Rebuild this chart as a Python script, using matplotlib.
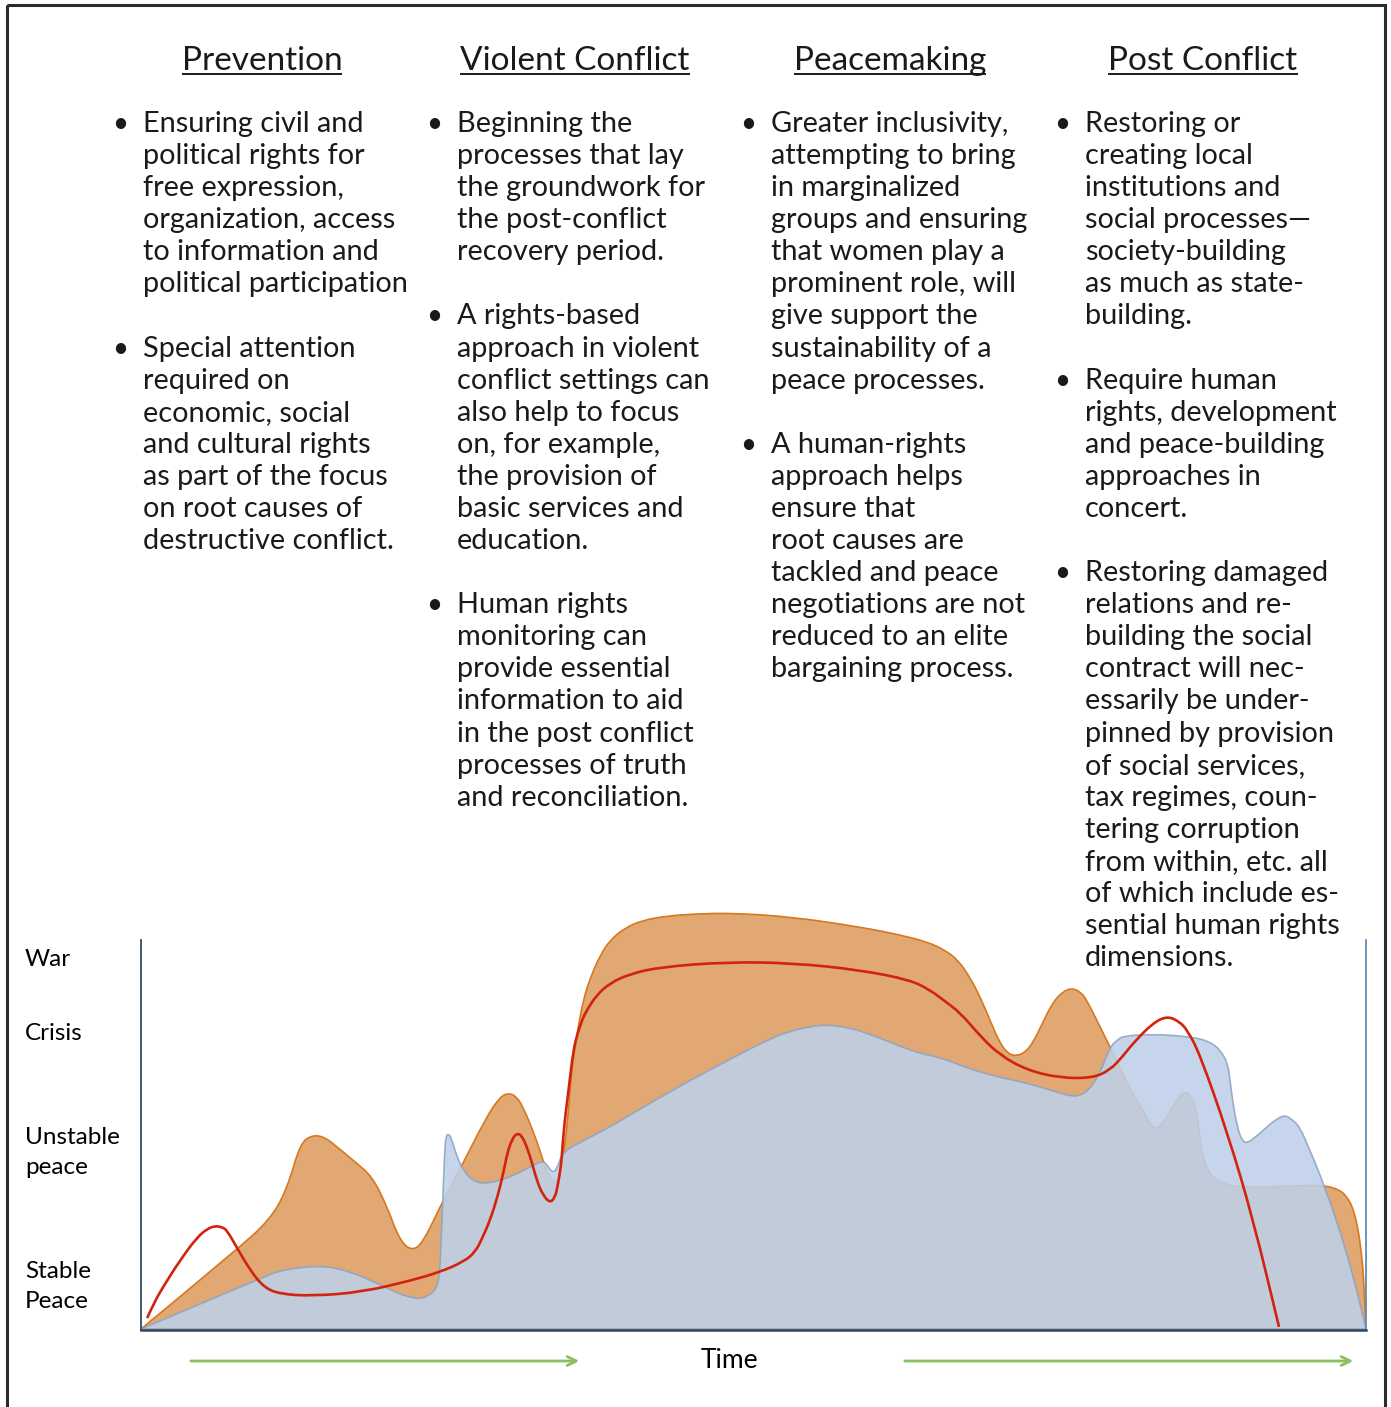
import matplotlib.pyplot as plt
from matplotlib.patches import Rectangle, PathPatch
from matplotlib.path import Path

plt.rcParams['font.family'] = ['Lato', 'DejaVu Sans']

W, H = 1391, 1407

# ---- data: conflict curve chart (time 0-100, level on an arbitrary scale) ----
orange_t = [0, 7.8, 10.5, 11.9, 13.0, 14.0, 15.0, 16.0, 17.5, 18.9, 20.1, 21.1, 22.1, 23.0,
            24.4, 26.3, 28.2, 29.3, 30.0, 30.6, 31.2, 32.2, 32.8, 33.3, 33.9, 34.4, 34.9,
            35.1, 35.6, 36.1, 36.7, 37.5, 38.3, 39.5, 41.0, 43.0, 45.1, 48.3, 53.2, 58.7,
            62.0, 64.2, 65.6, 66.7, 67.7, 68.5, 69.3, 70.1, 70.8, 71.5, 72.2, 72.8, 73.6,
            74.4, 75.2, 76.0, 76.7, 77.2, 78.3, 79.1, 79.9, 80.7, 81.6, 82.4, 82.9, 83.6,
            84.2, 84.9, 85.4, 85.9, 86.2, 86.4, 86.7, 87.3, 88.1, 90.0, 94.0, 96.5, 97.9,
            98.5, 98.9, 99.3, 99.6, 99.8, 100]
orange_y = [0, 0.79, 1.09, 1.39, 1.86, 1.94, 1.92, 1.82, 1.67, 1.52, 1.22, 0.89, 0.78, 0.86,
            1.22, 1.66, 2.12, 2.32, 2.36, 2.33, 2.22, 1.92, 1.69, 1.53, 1.44, 1.64, 2.16,
            2.54, 2.96, 3.29, 3.52, 3.74, 3.89, 4.01, 4.09, 4.13, 4.15, 4.16, 4.12, 4.02,
            3.94, 3.87, 3.79, 3.69, 3.51, 3.32, 3.09, 2.86, 2.75, 2.73, 2.77, 2.86, 3.06,
            3.26, 3.37, 3.41, 3.37, 3.29, 3.02, 2.82, 2.62, 2.41, 2.22, 2.05, 1.99, 2.09,
            2.22, 2.35, 2.37, 2.29, 2.16, 1.94, 1.69, 1.54, 1.46, 1.41, 1.43, 1.44, 1.39,
            1.31, 1.22, 1.04, 0.79, 0.54, 0]

blue_t = [0, 10.0, 11.3, 12.7, 14.4, 16.0, 17.5, 18.7, 20.9, 21.9, 22.8, 23.6, 24.2, 24.4,
          24.5, 24.6, 24.7, 24.8, 24.9, 25.1, 25.3, 25.8, 26.3, 27.0, 27.9, 29.5, 31.2,
          32.8, 33.2, 33.6, 34.0, 34.4, 36.2, 38.3, 42.4, 46.4, 51.1, 53.0, 54.9, 56.0,
          57.5, 59.3, 63.3, 65.2, 68.5, 72.3, 74.2, 75.8, 76.6, 77.4, 78.3, 79.1, 79.7,
          80.2, 82.6, 85.9, 87.3, 88.1, 88.7, 88.9, 89.1, 89.5, 89.9, 90.3, 90.9, 91.9,
          92.7, 93.4, 94.0, 94.6, 95.4, 96.2, 97.6, 98.9, 100]
blue_y = [0, 0.52, 0.58, 0.61, 0.63, 0.61, 0.55, 0.49, 0.36, 0.32, 0.30, 0.34, 0.42, 0.59,
          0.89, 1.16, 1.49, 1.79, 1.93, 1.95, 1.92, 1.72, 1.59, 1.49, 1.45, 1.49, 1.58,
          1.69, 1.63, 1.56, 1.61, 1.77, 1.89, 2.02, 2.32, 2.59, 2.89, 2.98, 3.03, 3.04,
          3.02, 2.96, 2.76, 2.72, 2.56, 2.46, 2.39, 2.33, 2.33, 2.39, 2.56, 2.82, 2.89,
          2.93, 2.95, 2.92, 2.87, 2.79, 2.66, 2.49, 2.29, 2.01, 1.88, 1.86, 1.91, 2.02,
          2.10, 2.14, 2.09, 2.02, 1.79, 1.56, 1.09, 0.56, 0]

red_t = [0.5, 1.1, 1.8, 3.2, 4.6, 5.4, 6.0, 6.6, 7.0, 7.8, 8.9, 10.0, 11.3, 14.0, 18.1, 22.2,
         24.4, 26.3, 27.3, 27.9, 28.5, 29.1, 29.6, 29.9, 30.3, 30.7, 31.1, 31.5, 31.9, 32.3,
         32.8, 33.4, 33.8, 34.0, 34.3, 34.4, 34.6, 34.8, 35.0, 35.3, 35.6, 36.0, 36.4, 37.2,
         38.3, 39.9, 42.4, 47.8, 53.2, 58.7, 62.8, 64.4, 65.5, 66.9, 68.5, 70.1, 72.3, 75.0,
         77.7, 79.1, 80.1, 81.0, 82.6, 83.8, 84.8, 85.4, 86.4, 88.7, 90.8, 92.9]
red_y = [0.11, 0.27, 0.42, 0.69, 0.92, 1.00, 1.03, 1.02, 0.99, 0.82, 0.59, 0.42, 0.35, 0.33,
         0.37, 0.49, 0.57, 0.67, 0.77, 0.92, 1.09, 1.32, 1.57, 1.76, 1.90, 1.96, 1.93, 1.82,
         1.67, 1.49, 1.34, 1.26, 1.32, 1.42, 1.64, 1.82, 2.09, 2.29, 2.49, 2.79, 2.94, 3.09,
         3.19, 3.34, 3.46, 3.55, 3.62, 3.67, 3.66, 3.59, 3.49, 3.39, 3.29, 3.16, 2.93, 2.74,
         2.59, 2.51, 2.51, 2.59, 2.72, 2.86, 3.06, 3.13, 3.07, 2.99, 2.76, 1.96, 1.09, 0.02]

level_pos = [3.72, 2.97, 1.83, 0.49]
level_labels = ['War', 'Crisis', 'Unstable\npeace', 'Stable\nPeace']

# ---- data: text columns ----
headers = ['Prevention', 'Violent Conflict', 'Peacemaking', 'Post Conflict']
columns = [
    [['Ensuring civil and', 'political rights for', 'free expression,', 'organization, access',
      'to information and', 'political participation'],
     ['Special attention', 'required on', 'economic, social', 'and cultural rights',
      'as part of the focus', 'on root causes of', 'destructive conflict.']],
    [['Beginning the', 'processes that lay', 'the groundwork for', 'the post-conflict',
      'recovery period.'],
     ['A rights-based', 'approach in violent', 'conflict settings can', 'also help to focus',
      'on, for example,', 'the provision of', 'basic services and', 'education.'],
     ['Human rights', 'monitoring can', 'provide essential', 'information to aid',
      'in the post conflict', 'processes of truth', 'and reconciliation.']],
    [['Greater inclusivity,', 'attempting to bring', 'in marginalized', 'groups and ensuring',
      'that women play a', 'prominent role, will', 'give support the', 'sustainability of a',
      'peace processes.'],
     ['A human-rights', 'approach helps', 'ensure that', 'root causes are',
      'tackled and peace', 'negotiations are not', 'reduced to an elite', 'bargaining process.']],
    [['Restoring or', 'creating local', 'institutions and', 'social processes\u2014',
      'society-building', 'as much as state-', 'building.'],
     ['Require human', 'rights, development', 'and peace-building', 'approaches in', 'concert.'],
     ['Restoring damaged', 'relations and re-', 'building the social', 'contract will nec-',
      'essarily be under-', 'pinned by provision', 'of social services,', 'tax regimes, coun-',
      'tering corruption', 'from within, etc. all', 'of which include es-',
      'sential human rights', 'dimensions.']],
]


def smooth_path(xs, ys, close_to_base=False):
    # read points used as quadratic bezier control points -> smooth outline
    verts = [(xs[0], ys[0])]
    codes = [Path.MOVETO]
    for i in range(1, len(xs) - 1):
        verts += [(xs[i], ys[i]), ((xs[i] + xs[i + 1]) / 2, (ys[i] + ys[i + 1]) / 2)]
        codes += [Path.CURVE3, Path.CURVE3]
    verts.append((xs[-1], ys[-1]))
    codes.append(Path.LINETO)
    if close_to_base:
        verts += [(xs[-1], 0), (xs[0], 0), (xs[0], ys[0])]
        codes += [Path.LINETO, Path.LINETO, Path.CLOSEPOLY]
    return Path(verts, codes)


fig = plt.figure(figsize=(W / 100, H / 100), dpi=100)

# ---- chart (transparent background so the text stays visible) ----
ax = fig.add_axes([141 / W, (H - 1331) / H, 1225 / W, 431 / H])
ax.patch.set_visible(False)
ax.set_xlim(0, 100)
ax.set_ylim(-0.02, 4.29)
for s in ax.spines.values():
    s.set_visible(False)
ax.set_xticks([])

ax.add_patch(PathPatch(smooth_path(orange_t, orange_y, True), facecolor='#E2A873',
                       edgecolor='#D7781E', lw=1.2, zorder=2))
ax.add_patch(PathPatch(smooth_path(blue_t, blue_y, True), facecolor='#BED0E9',
                       edgecolor='#8CA5C3', lw=1.2, alpha=0.88, zorder=3))
ax.add_patch(PathPatch(smooth_path(red_t, red_y), fill=False, edgecolor='#D2230E',
                       lw=1.9, zorder=4, capstyle='butt', joinstyle='round'))

ax.plot([0, 0], [-0.01, 3.89], color='#2E4A68', lw=1.3, zorder=5, clip_on=False)
ax.plot([100, 100], [-0.01, 3.89], color='#5F8CB4', lw=1.3, zorder=5, clip_on=False)
ax.plot([0, 100], [-0.01, -0.01], color='#33475B', lw=1.8, zorder=5, clip_on=False)

ax.set_yticks(level_pos)
ax.set_yticklabels(level_labels, fontsize=17.5, color='black', linespacing=1.5)
ax.tick_params(axis='y', length=0, pad=83.5)
for lab in ax.get_yticklabels():
    lab.set_horizontalalignment('left')

# ---- background axes in pixel coordinates for the text part ----
bg = fig.add_axes([0, 0, 1, 1])
bg.patch.set_visible(False)
bg.set_xlim(0, W)
bg.set_ylim(H, 0)
bg.axis('off')
bg.add_patch(Rectangle((7, 5), 1378, H + 10, fill=False, edgecolor='#2b2b2b', lw=2.2))

txt_color = '#1a1a1a'
col_x = [143, 457, 771, 1085]
head_x = [262, 575, 890, 1203]
heads = []
for hx, h in zip(head_x, headers):
    heads.append(bg.text(hx, 70, h, ha='center', va='baseline', fontsize=24, color=txt_color))

pitch = 32.08
for cx, bullets in zip(col_x, columns):
    k = 0
    for lines in bullets:
        bg.text(cx - 23, 132 + k * pitch, '\u2022', ha='center', va='baseline',
                fontsize=20, color=txt_color)
        for line in lines:
            bg.text(cx, 132 + k * pitch, line, ha='left', va='baseline',
                    fontsize=20.8, color=txt_color)
            k += 1
        k += 1

# underline the headers
fig.canvas.draw()
for t in heads:
    bb = t.get_window_extent()
    bg.plot([bb.x0, bb.x1], [74, 74], color=txt_color, lw=1.4, solid_capstyle='butt')

# time axis label and arrows
bg.text(729, 1368, 'Time', ha='center', va='baseline', fontsize=19, color='black')
arrow_kw = dict(arrowstyle='->', color='#8DBF5E', lw=2, mutation_scale=16)
bg.annotate('', xy=(582, 1361), xytext=(188, 1361), arrowprops=arrow_kw)
bg.annotate('', xy=(1356, 1361), xytext=(902, 1361), arrowprops=arrow_kw)

fig.savefig('out.png', dpi=100)
